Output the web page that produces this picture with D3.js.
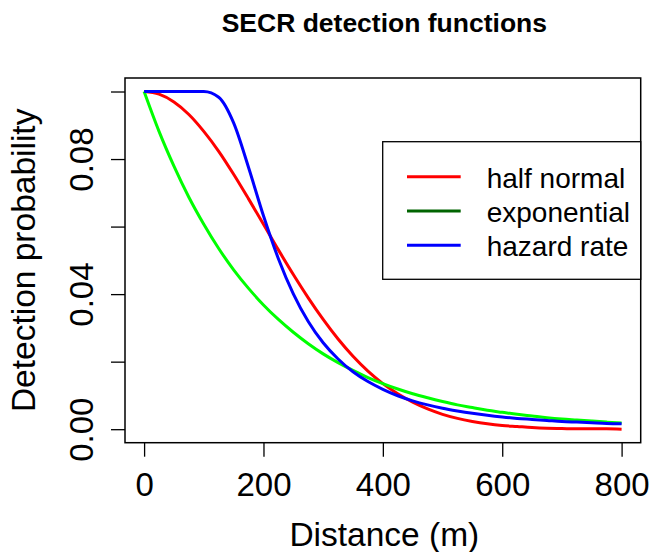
<!DOCTYPE html>
<meta charset="utf-8">

<script src="https://d3js.org/d3.v7.min.js"></script>

<style type="text/css">

body {
  margin: 0;
  background: #fff;
}

svg text {
  font-family: "Liberation Sans", Arial, Helvetica, sans-serif;
  fill: #000;
}

.axis path {
  display: none;
}

.axis line {
  stroke: #000;
  stroke-width: 1.3px;
}

.axis text {
  font-size: 33px;
}

.frame {
  fill: none;
  stroke: #000;
  stroke-width: 1.5px;
}

.curve {
  fill: none;
  stroke-width: 3;
}

</style>

<body>
</body>

<script>

var distance = [0, 25, 50, 75, 100, 125, 150, 175, 200, 225, 250, 275, 300, 325, 350, 375, 400,
                425, 450, 475, 500, 525, 550, 575, 600, 625, 650, 675, 700, 725, 750, 775, 800];

// detection probability for each detection function
var halfNormal = [0.1000, 0.0992, 0.0969, 0.0932, 0.0882, 0.0823, 0.0755, 0.0682, 0.0607, 0.0531, 0.0458,
                  0.0389, 0.0325, 0.0267, 0.0216, 0.0172, 0.0135, 0.0105, 0.0080, 0.0060, 0.0044, 0.0032,
                  0.0023, 0.0016, 0.0011, 0.0008, 0.0005, 0.0003, 0.0002, 0.0001, 0.0001, 0.0001, 0.0000];

var exponential = [0.1000, 0.0882, 0.0779, 0.0687, 0.0607, 0.0535, 0.0472, 0.0417, 0.0368, 0.0325, 0.0287,
                   0.0253, 0.0223, 0.0197, 0.0174, 0.0153, 0.0135, 0.0119, 0.0105, 0.0093, 0.0082, 0.0072,
                   0.0064, 0.0056, 0.0050, 0.0044, 0.0039, 0.0034, 0.0030, 0.0027, 0.0024, 0.0021, 0.0018];

var hazardRate = [0.1000, 0.1000, 0.1000, 0.1000, 0.1000, 0.0983, 0.0907, 0.0775, 0.0632, 0.0505, 0.0401,
                  0.0319, 0.0256, 0.0208, 0.0170, 0.0141, 0.0118, 0.0099, 0.0084, 0.0072, 0.0062, 0.0054,
                  0.0047, 0.0041, 0.0036, 0.0032, 0.0029, 0.0026, 0.0023, 0.0021, 0.0019, 0.0017, 0.0016];

var seriesNames = ['half normal', 'exponential', 'hazard rate'];
var lineColors = ['#ff0000', '#00ff00', '#0000ff'];
var legendColors = ['#ff0000', '#006400', '#0000ff'];

var xTicks = [0, 200, 400, 600, 800];
var yTicks = [0, 0.02, 0.04, 0.06, 0.08, 0.10];
var yTickLabels = ['0.00', '', '0.04', '', '0.08', ''];

var width = 652,
    height = 552;

// plot region (R style, 4% padding on the data range)
var plot = {left: 125, right: 640.7, top: 78, bottom: 442.7};

var svg = d3.select('body').append('svg')
    .attr('width', width)
    .attr('height', height);

var xScale = d3.scaleLinear()
  .domain([-32, 832])
  .range([plot.left, plot.right]);

var yScale = d3.scaleLinear()
  .domain([-0.004, 0.104])
  .range([plot.bottom, plot.top]);

// title
svg.append('text')
  .attr('x', (plot.left + plot.right) / 2 + 1.5)
  .attr('y', 32)
  .attr('text-anchor', 'middle')
  .style('font-size', '26.5px')
  .style('font-weight', 'bold')
  .text('SECR detection functions');

// x axis
var xAxis = d3.axisBottom(xScale)
  .tickValues(xTicks)
  .tickSize(14)
  .tickPadding(0)
  .tickFormat(d3.format('d'));

var xAxisGroup = svg.append('g')
  .attr('class', 'x axis')
  .attr('transform', 'translate(0,' + plot.bottom + ')')
  .call(xAxis);

xAxisGroup.selectAll('text')
  .attr('dy', null)
  .attr('y', 53.5);

// y axis, labels rotated like R's default las=0
var yAxis = d3.axisLeft(yScale)
  .tickValues(yTicks)
  .tickSize(14)
  .tickFormat(function(d, i) { return yTickLabels[i]; });

var yAxisGroup = svg.append('g')
  .attr('class', 'y axis')
  .attr('transform', 'translate(' + plot.left + ',0)')
  .call(yAxis);

yAxisGroup.selectAll('text')
  .attr('x', null)
  .attr('dy', null)
  .attr('text-anchor', 'middle')
  .attr('transform', 'translate(-32.3,0) rotate(-90)');

// axis titles
svg.append('text')
  .attr('x', (plot.left + plot.right) / 2 + 1.5)
  .attr('y', 546)
  .attr('text-anchor', 'middle')
  .style('font-size', '33.5px')
  .text('Distance (m)');

svg.append('text')
  .attr('transform', 'translate(35,' + (plot.top + plot.bottom) / 2 + ') rotate(-90)')
  .attr('text-anchor', 'middle')
  .style('font-size', '33.5px')
  .text('Detection probability');

// curves
var lineGenerator = d3.line()
  .x(function(d) { return xScale(d.distance); })
  .y(function(d) { return yScale(d.p); })
  .curve(d3.curveMonotoneX);

var curves = [halfNormal, exponential, hazardRate].map(function(values) {
  return values.map(function(v, i) { return {distance: distance[i], p: v}; });
});

svg.selectAll('.curve')
  .data(curves)
  .enter().append('path')
  .attr('class', 'curve')
  .style('stroke', function(d, i) { return lineColors[i]; })
  .attr('d', lineGenerator);

// frame around the plot region
svg.append('rect')
  .attr('class', 'frame')
  .attr('x', plot.left)
  .attr('y', plot.top)
  .attr('width', plot.right - plot.left)
  .attr('height', plot.bottom - plot.top);

// legend
var legend = svg.append('g')
  .attr('class', 'legend')
  .attr('transform', 'translate(382.7,141.7)');

legend.append('rect')
  .attr('width', plot.right - 382.7)
  .attr('height', 137.6)
  .style('fill', '#fff')
  .style('stroke', '#000')
  .style('stroke-width', 1.3);

var legendItems = legend.selectAll('.legendItem')
  .data(seriesNames)
  .enter().append('g')
  .attr('class', 'legendItem')
  .attr('transform', function(d, i) { return 'translate(0,' + (35 + i * 34.3) + ')'; });

legendItems.append('line')
  .attr('x1', 24.3)
  .attr('x2', 78)
  .style('stroke', function(d, i) { return legendColors[i]; })
  .style('stroke-width', 3);

legendItems.append('text')
  .attr('x', 104)
  .attr('y', 11)
  .style('font-size', '28px')
  .text(function(d) { return d; });

</script>
